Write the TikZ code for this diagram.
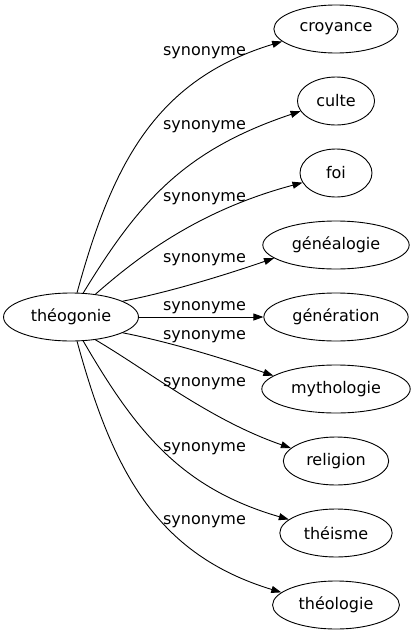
\documentclass[tikz,border=0pt]{standalone}
\usepackage{fontspec}
\setmainfont{DejaVu Sans}
\usetikzlibrary{arrows.meta,shapes.geometric}

\tikzset{
  word/.style={shape=ellipse, draw=black, line width=0.9pt, inner xsep=7.5pt,
    minimum width=72pt, minimum height=48pt, font=\fontsize{16}{19}\selectfont},
  syn/.style={inner sep=0pt, font=\fontsize{16}{19}\selectfont},
  rel/.style={-{Triangle[length=10pt,width=7pt]}, line width=0.9pt}
}

\begin{document}
\begin{tikzpicture}[x=1pt, y=-1pt]
    \useasboundingbox (0,0) rectangle (415,635);

    \node[word] (theo) at (71,317) {théogonie};
    \node[word] (croy) at (336,29) {croyance};
    \node[word] (culte) at (336,101) {culte};
    \node[word] (foi) at (336,173) {foi};
    \node[word] (genea) at (336,245) {généalogie};
    \node[word] (gener) at (336,317) {génération};
    \node[word] (mytho) at (336,389) {mythologie};
    \node[word] (relig) at (336,461) {religion};
    \node[word] (theis) at (336,533) {théisme};
    \node[word] (theol) at (336,605) {théologie};

    \node[syn] (syn1) at (204.5,53) {synonyme};
    \node[syn] (syn2) at (204.5,127) {synonyme};
    \node[syn] (syn3) at (204.5,199) {synonyme};
    \node[syn] (syn4) at (204.5,260) {synonyme};
    \node[syn] (syn5) at (204.5,308) {synonyme};
    \node[syn] (syn6) at (204.5,337) {synonyme};
    \node[syn] (syn7) at (204.5,384) {synonyme};
    \node[syn] (syn8) at (204.5,449) {synonyme};
    \node[syn] (syn9) at (204.5,522) {synonyme};

    \draw[rel] (theo.76.5) .. controls (112,165) and (155,80) .. (croy.193);
    \draw[rel] (theo.63.7) .. controls (140,200) and (185,150) .. (culte.196);
    \draw[rel] (theo.43.8) .. controls (140,255) and (200,210) .. (foi.196);
    \draw[rel] (theo.17.8) .. controls (170,292) and (225,275) .. (genea.192);
    \draw[rel] (theo) -- (gener);
    \draw[rel] (theo.-17.8) .. controls (170,342) and (225,359) .. (mytho.168);
    \draw[rel] (theo.-43.8) .. controls (150,372) and (210,420) .. (relig.164);
    \draw[rel] (theo.-63.7) .. controls (135,430) and (180,488) .. (theis.164);
    \draw[rel] (theo.-76.5) .. controls (112,469) and (155,554) .. (theol.167);

\end{tikzpicture}
\end{document}
